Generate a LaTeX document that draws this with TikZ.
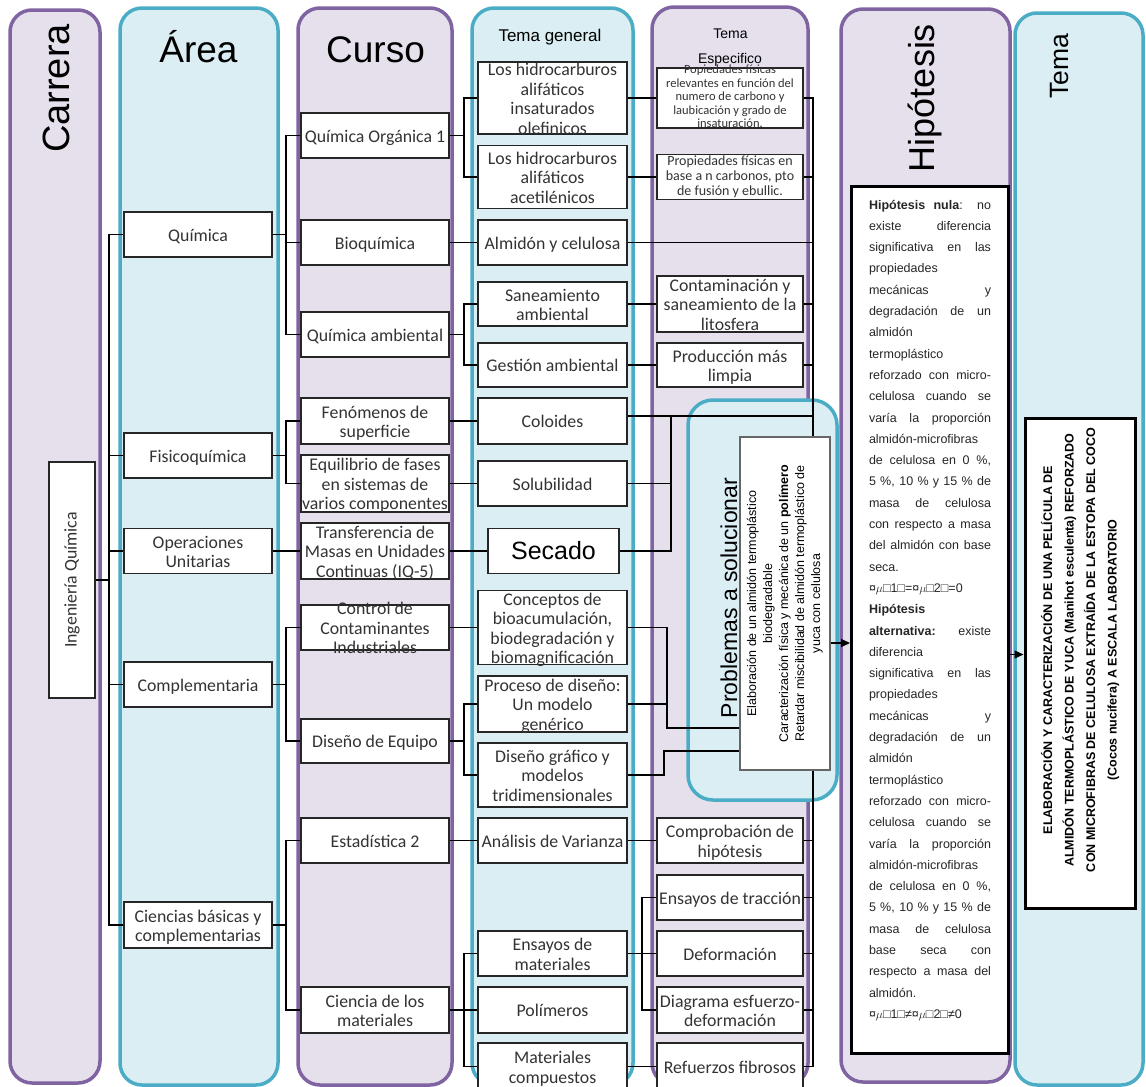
\documentclass[tikz,border=0pt]{standalone}
\usepackage{fontspec}
\setmainfont{Liberation Sans}
\newfontfamily\calibri{Carlito}
\usetikzlibrary{arrows.meta,calc}

\definecolor{lilac}{HTML}{8064A2}
\definecolor{lilacfill}{HTML}{E5E0EC}
\definecolor{colblue}{HTML}{4BACC6}
\definecolor{colbluefill}{HTML}{DAEEF3}

% centred multi-line text that does not enlarge its box (#1 = downward offset doubled)
\newcommand\txo[2]{\vbox to 0pt{\vss\hbox to 0pt{\hss\begin{tabular}{@{}c@{}}#2\end{tabular}\hss}\vss\kern-#1}}
\newcommand\tx[1]{\txo{6pt}{#1}}
% justified and left-set lines of the hypothesis text
\newcommand\hjust[1]{\hbox{\rule{0pt}{10pt}\makebox[122pt][s]{#1}}}
\newcommand\hleft[1]{\hbox{\rule{0pt}{10pt}\makebox[122pt][l]{#1}}}

\begin{document}
\begin{tikzpicture}[x=1pt,y=-1pt,
  colp/.style={draw=lilac, fill=lilacfill, line width=3.5pt, rounded corners=22pt, inner sep=0pt},
  colb/.style={draw=colblue, fill=colbluefill, line width=3.5pt, rounded corners=22pt, inner sep=0pt},
  bx/.style={draw=black!85, line width=1.5pt, fill=white, inner sep=0pt, text=black!80,
    font=\calibri\fontsize{17.8}{19.5}\selectfont},
  abox/.style={bx, minimum width=148pt},
  cbox/.style={bx, minimum width=148pt},
  gbox/.style={bx, minimum width=149pt},
  ebox/.style={bx, minimum width=146pt},
  thickbox/.style={draw=black, line width=3pt, fill=white, inner sep=0pt},
  ttl/.style={inner sep=0pt, anchor=base, text=black},
  link/.style={draw=black, line width=1.3pt},
  arr/.style={link, -{Triangle[length=9pt,width=8pt]}}
]
\useasboundingbox (0,0) rectangle (1146,1087);
\clip (0,0) rectangle (1146,1087);
\fill[white] (0,0) rectangle (1146,1087);

% ---------- columns ----------
\node[colp, minimum width=90pt,  minimum height=1073pt] (ccar)  at (55,546.5) {};
\node[colb, minimum width=158pt, minimum height=1077pt] (carea) at (199,546.5) {};
\node[colp, minimum width=154pt, minimum height=1077pt] (ccur)  at (375,546.5) {};
\node[colb, minimum width=161pt, minimum height=1077pt] (cgen)  at (552.5,546.5) {};
\node[colp, minimum width=156pt, minimum height=1078pt] (cesp)  at (730,546) {};
\node[colp, minimum width=169pt, minimum height=1073pt] (chip)  at (925.5,545.5) {};
\node[colb, minimum width=128pt, minimum height=1072pt] (ctema) at (1079,549) {};

% problems panel
\node[colb, rounded corners=25pt, minimum width=149pt, minimum height=400pt] (probarea) at (762.5,600) {};

% ---------- column titles ----------
\node[ttl, rotate=90, font=\fontsize{38}{40}\selectfont] (tcar) at (69,88.5) {Carrera};
\node[ttl, font=\fontsize{37}{40}\selectfont] (tarea) at (198.5,62) {Área};
\node[ttl, font=\fontsize{37}{40}\selectfont] (tcurso) at (375.5,62) {Curso};
\node[ttl, font=\fontsize{17}{20}\selectfont] (tgen) at (550,41) {Tema general};
\node[ttl, font=\fontsize{14}{16}\selectfont] (tesp1) at (730.5,38) {Tema};
\node[ttl, font=\fontsize{14}{16}\selectfont] (tesp2) at (730,63) {Especifico};
\node[ttl, rotate=90, font=\fontsize{36}{40}\selectfont] (thip) at (934,98) {Hipótesis};
\node[ttl, rotate=90, font=\fontsize{26.5}{30}\selectfont] (ttema) at (1068,66) {Tema};
\node[ttl, rotate=90, font=\fontsize{23}{26}\selectfont] (tprob) at (737,598) {Problemas a solucionar};

% ---------- career ----------
\node[bx, minimum width=46pt, minimum height=236pt] (ing) at (72,580) {\rotatebox{90}{Ingeniería Química}};

% ---------- areas ----------
\node[abox, minimum height=45pt] (quim)  at (198,234.5) {\tx{Química}};
\node[abox, minimum height=45pt] (fisq)  at (198,455.5) {\tx{Fisicoquímica}};
\node[abox, minimum height=45pt] (opun)  at (198,551)   {\tx{Operaciones\\Unitarias}};
\node[abox, minimum height=45pt] (compl) at (198,684.5) {\tx{Complementaria}};
\node[abox, minimum height=46pt] (cbas)  at (198,925)   {\tx{Ciencias básicas y\\complementarias}};

% ---------- courses ----------
\node[cbox, minimum height=45pt] (qo1)   at (375,135.5) {\tx{Química Orgánica 1}};
\node[cbox, minimum height=45pt] (bioq)  at (375,242.5) {\tx{Bioquímica}};
\node[cbox, minimum height=45pt] (qamb)  at (375,334.5) {\tx{Química ambiental}};
\node[cbox, minimum height=46pt] (fen)   at (375,421)   {\tx{Fenómenos de\\superficie}};
\node[cbox, minimum height=57pt] (equi)  at (375,483.5) {\tx{Equilibrio de fases\\en sistemas de\\varios componentes}};
\node[cbox, minimum height=56pt] (trans) at (375,551)   {\tx{Transferencia de\\Masas en Unidades\\Continuas (IQ-5)}};
\node[cbox, minimum height=45pt] (contr) at (375,627.5) {\tx{Control de\\Contaminantes\\Industriales}};
\node[cbox, minimum height=44pt] (diseq) at (375,741)   {\tx{Diseño de Equipo}};
\node[cbox, minimum height=45pt] (estad) at (375,840.5) {\tx{Estadística 2}};
\node[cbox, minimum height=46pt] (cmat)  at (375,1010)  {\tx{Ciencia de los\\materiales}};

% ---------- general topics ----------
\node[gbox, minimum height=72pt] (olef)    at (552.5,98)    {\tx{Los hidrocarburos\\alifáticos\\insaturados\\olefinicos}};
\node[gbox, minimum height=63pt] (acet)    at (552.5,177)   {\tx{Los hidrocarburos\\alifáticos\\acetilénicos}};
\node[gbox, minimum height=45pt] (almid)   at (552.5,242.5) {\tx{Almidón y celulosa}};
\node[gbox, minimum height=44pt] (san)     at (552.5,304)   {\tx{Saneamiento\\ambiental}};
\node[gbox, minimum height=44pt] (gest)    at (552.5,365)   {\tx{Gestión ambiental}};
\node[gbox, minimum height=46pt] (col)     at (552.5,421)   {\tx{Coloides}};
\node[gbox, minimum height=45pt] (solub)   at (552.5,483.5) {\tx{Solubilidad}};
\node[bx, minimum width=131pt, minimum height=45pt, font=\fontsize{25}{28}\selectfont, text=black] (secado) at (553.5,551) {\tx{Secado}};
\node[gbox, minimum height=74pt] (concep)  at (552.5,627.5) {\tx{Conceptos de\\bioacumulación,\\biodegradación y\\biomagnificación}};
\node[gbox, minimum height=56pt] (proc)    at (552.5,704)   {\tx{Proceso de diseño:\\Un modelo\\genérico}};
\node[gbox, minimum height=64pt] (disgraf) at (552.5,775)   {\tx{Diseño gráfico y\\modelos\\tridimensionales}};
\node[gbox, minimum height=45pt] (anal)    at (552.5,840.5) {\tx{Análisis de Varianza}};
\node[gbox, minimum height=45pt] (ensmat)  at (552.5,953.5) {\tx{Ensayos de\\materiales}};
\node[gbox, minimum height=46pt] (polim)   at (552.5,1010)  {\tx{Polímeros}};
\node[gbox, minimum height=47pt] (matcomp) at (552.5,1066.5){\tx{Materiales\\compuestos}};

% ---------- specific topics ----------
\node[ebox, minimum height=60pt, font=\calibri\fontsize{12.5}{13.5}\selectfont] (popi) at (730,98)
  {\txo{0pt}{Popiedades físicas\\relevantes en función del\\numero de carbono y\\laubicación y grado de\\insaturación.}};
\node[ebox, minimum height=45pt, font=\calibri\fontsize{14}{15}\selectfont] (propi) at (730,177)
  {\txo{0pt}{Propiedades físicas en\\base a n carbonos, pto\\de fusión y ebullic.}};
\node[ebox, minimum height=56pt] (cont)   at (730,304)    {\tx{Contaminación y\\saneamiento de la\\litosfera}};
\node[ebox, minimum height=44pt] (prod)   at (730,365)    {\tx{Producción más\\limpia}};
\node[ebox, minimum height=45pt] (comp)   at (730,840.5)  {\tx{Comprobación de\\hipótesis}};
\node[ebox, minimum height=45pt] (enstr)  at (730,897.5)  {\tx{Ensayos de tracción}};
\node[ebox, minimum height=45pt] (deform) at (730,953.5)  {\tx{Deformación}};
\node[ebox, minimum height=46pt] (diag)   at (730,1010)   {\tx{Diagrama esfuerzo-\\deformación}};
\node[ebox, minimum height=47pt] (refz)   at (730,1066.5) {\tx{Refuerzos fibrosos}};

% ---------- problems to solve ----------
\node[draw=black!60, line width=1.2pt, fill=white, inner sep=0pt, minimum width=90pt, minimum height=333pt,
      font=\fontsize{12.5}{16}\selectfont] (probbox) at (785,603.5)
  {\rotatebox{90}{\begin{tabular}{@{}c@{}}Elaboración de un almidón termoplástico\\biodegradable\\
   Caracterización física y mecánica de un \textbf{polímero}\\
   Retardar miscibilidad de almidón termoplástico de\\yuca con celulosa\end{tabular}}};

% ---------- hypotheses ----------
\node[thickbox, anchor=north west, minimum width=157pt, minimum height=867pt, text=black!85,
      font=\fontsize{12.5}{21.3}\selectfont] (hipbox) at (850,185)
  {\vbox to 867pt{\vskip12.5pt\baselineskip=21.3pt
    \hjust{\textbf{Hipótesis nula}: no}
    \hjust{existe diferencia}
    \hjust{significativa en las}
    \hleft{propiedades}
    \hjust{mecánicas y}
    \hjust{degradación de un}
    \hleft{almidón}
    \hleft{termoplástico}
    \hjust{reforzado con micro-}
    \hjust{celulosa cuando se}
    \hjust{varía la proporción}
    \hleft{almidón-microfibras}
    \hjust{de celulosa en 0 \%,}
    \hjust{5 \%, 10 \% y 15 \% de}
    \hjust{masa de celulosa}
    \hjust{con respecto a masa}
    \hjust{del almidón con base}
    \hleft{seca.}
    \hleft{¤$\mu$□1□=¤$\mu$□2□=0}
    \hleft{\textbf{Hipótesis}}
    \hjust{\textbf{alternativa:} existe}
    \hleft{diferencia}
    \hjust{significativa en las}
    \hleft{propiedades}
    \hjust{mecánicas y}
    \hjust{degradación de un}
    \hleft{almidón}
    \hleft{termoplástico}
    \hjust{reforzado con micro-}
    \hjust{celulosa cuando se}
    \hjust{varía la proporción}
    \hleft{almidón-microfibras}
    \hjust{de celulosa en 0 \%,}
    \hjust{5 \%, 10 \% y 15 \% de}
    \hjust{masa de celulosa}
    \hjust{base seca con}
    \hjust{respecto a masa del}
    \hleft{almidón.}
    \hleft{¤$\mu$□1□≠¤$\mu$□2□≠0}
    \vfill}};

% ---------- thesis title ----------
\node[thickbox, minimum width=110pt, minimum height=490pt, font=\bfseries\fontsize{12.5}{21.5}\selectfont] (temabox) at (1080,663)
  {\rotatebox{90}{\hspace*{26pt}\begin{tabular}{@{}c@{}}ELABORACIÓN Y CARACTERIZACIÓN DE UNA PELÍCULA DE\\
   ALMIDÓN TERMOPLÁSTICO DE YUCA (Manihot esculenta) REFORZADO\\
   CON MICROFIBRAS DE CELULOSA EXTRAÍDA DE LA ESTOPA DEL COCO\\
   (Cocos nucifera) A ESCALA LABORATORIO\end{tabular}}};

% ---------- connectors ----------
\coordinate (b1) at (109,0);
\coordinate (b2) at (286,0);
\coordinate (b3) at (464,0);
\coordinate (b5) at (813,0);
\coordinate (b6) at (642,0);
\coordinate (cj) at (671,416);
\coordinate (cj2) at (667,728);
\coordinate (cj3) at (664,751);

% career to areas
\draw[link] (ing.east) -- (ing.east -| b1);
\foreach \n in {quim,fisq,opun,compl,cbas} \draw[link] (ing.east -| b1) |- (\n.west);

% areas to courses
\draw[link] (quim.east) -- (quim.east -| b2);
\foreach \n in {qo1,bioq,qamb} \draw[link] (quim.east -| b2) |- (\n.west);
\draw[link] (fisq.east) -- (fisq.east -| b2);
\foreach \n in {fen,equi} \draw[link] (fisq.east -| b2) |- (\n.west);
\draw[link] (opun.east) -- (trans.west);
\draw[link] (compl.east) -- (compl.east -| b2);
\foreach \n in {contr,diseq} \draw[link] (compl.east -| b2) |- (\n.west);
\draw[link] (cbas.east) -- (cbas.east -| b2);
\foreach \n in {estad,cmat} \draw[link] (cbas.east -| b2) |- (\n.west);

% courses to general topics
\draw[link] (qo1.east) -- (qo1.east -| b3);
\foreach \n in {olef,acet} \draw[link] (qo1.east -| b3) |- (\n.west);
\draw[link] (bioq.east) -- (almid.west);
\draw[link] (qamb.east) -- (qamb.east -| b3);
\foreach \n in {san,gest} \draw[link] (qamb.east -| b3) |- (\n.west);
\draw[link] (fen.east) -- (col.west);
\draw[link] (equi.east) -- (solub.west);
\draw[link] (trans.east) -- (secado.west);
\draw[link] (contr.east) -- (concep.west);
\draw[link] (diseq.east) -- (diseq.east -| b3);
\foreach \n in {proc,disgraf} \draw[link] (diseq.east -| b3) |- (\n.west);
\draw[link] (estad.east) -- (anal.west);
\draw[link] (cmat.east) -- (cmat.east -| b3);
\foreach \n in {ensmat,polim,matcomp} \draw[link] (cmat.east -| b3) |- (\n.west);

% general to specific topics
\draw[link] (olef.east) -- (popi.west);
\draw[link] (acet.east) -- (propi.west);
\draw[link] (almid.east) -- (almid.east -| b5);
\draw[link] (san.east) -- (cont.west);
\draw[link] (gest.east) -- (prod.west);
\draw[link] (col.east |- cj) -- (cj -| b5);
\draw[link] (solub.east) -| (cj);
\draw[link] (secado.east) -| (cj);
\draw[link] (concep.east) -| (cj2) -- (cj2 -| probbox.west);
\draw[link] (proc.east) -- (proc.east -| cj2);
\draw[link] (disgraf.east) -| (cj3) -- (cj3 -| probbox.west);
\draw[link] (anal.east) -- (comp.west);
\draw[link] (ensmat.east) -- (deform.west);
\draw[link] (enstr.west) -| (b6 |- diag.west) -- (diag.west);
\draw[link] (matcomp.east) -- (refz.west);

% collecting bus into the problems box
\draw[link] (popi.east) -| (b5 |- probbox.north);
\foreach \n in {propi,cont,prod} \draw[link] (\n.east) -- (\n.east -| b5);
\draw[link] (b5 |- probbox.south) |- (refz.east);
\foreach \n in {comp,enstr,deform,diag} \draw[link] (\n.east) -- (\n.east -| b5);

% arrows
\coordinate (a1) at ([yshift=-39.5pt]probbox.east);
\coordinate (a2) at ([yshift=-34.5pt]hipbox.east);
\draw[arr] (a1) -- (a1 -| hipbox.west);
\draw[arr] (a2) -- (a2 -| temabox.west);
\end{tikzpicture}
\end{document}
